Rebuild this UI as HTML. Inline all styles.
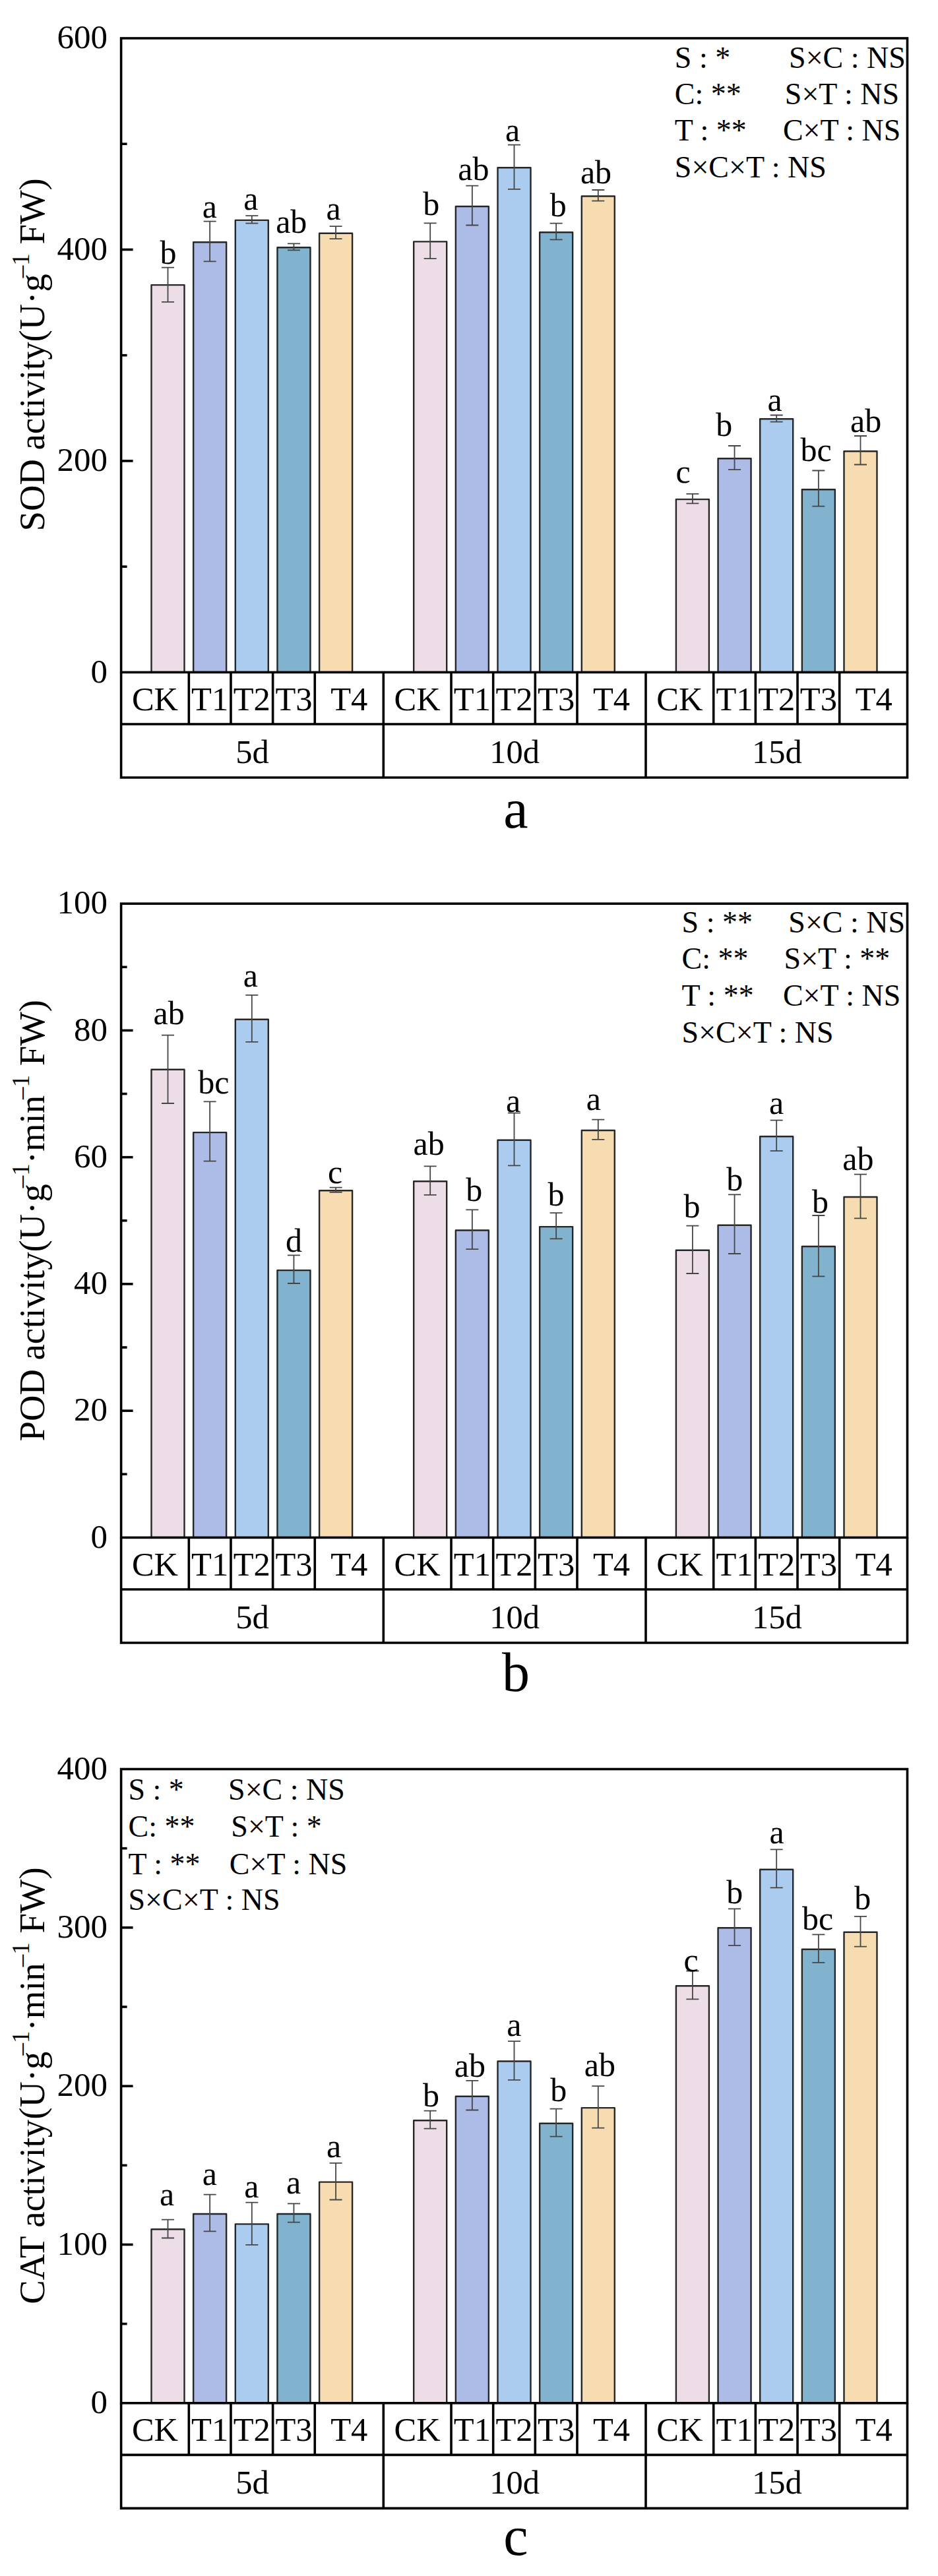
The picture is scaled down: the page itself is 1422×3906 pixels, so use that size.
<!DOCTYPE html><html><head><meta charset="utf-8"><style>html,body{margin:0;padding:0;background:#fff;}svg{display:block;}text{font-family:"Liberation Serif",serif;fill:#000;}</style></head><body>
<svg width="1422" height="3906" viewBox="0 0 1422 3906">
<rect x="0" y="0" width="1422" height="3906" fill="#fff"/>
<rect x="229.5" y="432.1" width="50" height="587.3" fill="#EDDDE7" stroke="#262626" stroke-width="2.4" stroke-linejoin="round"/>
<rect x="293.15" y="367.3" width="50" height="652.1" fill="#ADBBE7" stroke="#262626" stroke-width="2.4" stroke-linejoin="round"/>
<rect x="356.8" y="333.9" width="50" height="685.5" fill="#ABCCEF" stroke="#262626" stroke-width="2.4" stroke-linejoin="round"/>
<rect x="420.45" y="375.2" width="50" height="644.2" fill="#81B3CF" stroke="#262626" stroke-width="2.4" stroke-linejoin="round"/>
<rect x="484.1" y="353.7" width="50" height="665.7" fill="#F6DCB0" stroke="#262626" stroke-width="2.4" stroke-linejoin="round"/>
<rect x="627.2" y="366.4" width="50" height="653" fill="#EDDDE7" stroke="#262626" stroke-width="2.4" stroke-linejoin="round"/>
<rect x="690.85" y="313" width="50" height="706.4" fill="#ADBBE7" stroke="#262626" stroke-width="2.4" stroke-linejoin="round"/>
<rect x="754.5" y="254.2" width="50" height="765.2" fill="#ABCCEF" stroke="#262626" stroke-width="2.4" stroke-linejoin="round"/>
<rect x="818.15" y="352.2" width="50" height="667.2" fill="#81B3CF" stroke="#262626" stroke-width="2.4" stroke-linejoin="round"/>
<rect x="881.8" y="297.5" width="50" height="721.9" fill="#F6DCB0" stroke="#262626" stroke-width="2.4" stroke-linejoin="round"/>
<rect x="1024.9" y="757.1" width="50" height="262.3" fill="#EDDDE7" stroke="#262626" stroke-width="2.4" stroke-linejoin="round"/>
<rect x="1088.55" y="695.3" width="50" height="324.1" fill="#ADBBE7" stroke="#262626" stroke-width="2.4" stroke-linejoin="round"/>
<rect x="1152.2" y="635.2" width="50" height="384.2" fill="#ABCCEF" stroke="#262626" stroke-width="2.4" stroke-linejoin="round"/>
<rect x="1215.85" y="742.2" width="50" height="277.2" fill="#81B3CF" stroke="#262626" stroke-width="2.4" stroke-linejoin="round"/>
<rect x="1279.5" y="684.2" width="50" height="335.2" fill="#F6DCB0" stroke="#262626" stroke-width="2.4" stroke-linejoin="round"/>
<path d="M254.5 405.6V457.8M245 405.6H264M245 457.8H264" stroke="#454545" stroke-width="1.8" fill="none"/>
<text x="255.1" y="400.1" font-size="50" text-anchor="middle">b</text>
<path d="M318.15 335.6V396.3M308.65 335.6H327.65M308.65 396.3H327.65" stroke="#454545" stroke-width="1.8" fill="none"/>
<text x="317.95" y="329.5" font-size="50" text-anchor="middle">a</text>
<path d="M381.8 327.1V338.7M372.3 327.1H391.3M372.3 338.7H391.3" stroke="#454545" stroke-width="1.8" fill="none"/>
<text x="380.3" y="317.5" font-size="50" text-anchor="middle">a</text>
<path d="M445.45 369.4V379.3M435.95 369.4H454.95M435.95 379.3H454.95" stroke="#454545" stroke-width="1.8" fill="none"/>
<text x="441.75" y="352.7" font-size="50" text-anchor="middle">ab</text>
<path d="M509.1 343.1V362.2M499.6 343.1H518.6M499.6 362.2H518.6" stroke="#454545" stroke-width="1.8" fill="none"/>
<text x="505.5" y="332.9" font-size="50" text-anchor="middle">a</text>
<path d="M652.2 338.3V392.2M642.7 338.3H661.7M642.7 392.2H661.7" stroke="#454545" stroke-width="1.8" fill="none"/>
<text x="653.8" y="326" font-size="50" text-anchor="middle">b</text>
<path d="M715.85 281.6V341.5M706.35 281.6H725.35M706.35 341.5H725.35" stroke="#454545" stroke-width="1.8" fill="none"/>
<text x="717.85" y="272.6" font-size="50" text-anchor="middle">ab</text>
<path d="M779.5 219.6V286.8M770 219.6H789M770 286.8H789" stroke="#454545" stroke-width="1.8" fill="none"/>
<text x="777" y="213.5" font-size="50" text-anchor="middle">a</text>
<path d="M843.15 338.7V363.4M833.65 338.7H852.65M833.65 363.4H852.65" stroke="#454545" stroke-width="1.8" fill="none"/>
<text x="846.25" y="328.2" font-size="50" text-anchor="middle">b</text>
<path d="M906.8 288V304.7M897.3 288H916.3M897.3 304.7H916.3" stroke="#454545" stroke-width="1.8" fill="none"/>
<text x="903.5" y="277.5" font-size="50" text-anchor="middle">ab</text>
<path d="M1049.9 748.9V763.4M1040.4 748.9H1059.4M1040.4 763.4H1059.4" stroke="#454545" stroke-width="1.8" fill="none"/>
<text x="1035.6" y="732.2" font-size="50" text-anchor="middle">c</text>
<path d="M1113.55 676V712.2M1104.05 676H1123.05M1104.05 712.2H1123.05" stroke="#454545" stroke-width="1.8" fill="none"/>
<text x="1097.85" y="661" font-size="50" text-anchor="middle">b</text>
<path d="M1177.2 629.5V639.7M1167.7 629.5H1186.7M1167.7 639.7H1186.7" stroke="#454545" stroke-width="1.8" fill="none"/>
<text x="1174.7" y="622.6" font-size="50" text-anchor="middle">a</text>
<path d="M1240.85 713.5V767.6M1231.35 713.5H1250.35M1231.35 767.6H1250.35" stroke="#454545" stroke-width="1.8" fill="none"/>
<text x="1237.15" y="698.6" font-size="50" text-anchor="middle">bc</text>
<path d="M1304.5 661V704.5M1295 661H1314M1295 704.5H1314" stroke="#454545" stroke-width="1.8" fill="none"/>
<text x="1312.6" y="654.6" font-size="50" text-anchor="middle">ab</text>
<rect x="183.6" y="58" width="1191.9" height="961.4" fill="none" stroke="#000" stroke-width="3.6"/>
<text x="163" y="1034.6" font-size="51" text-anchor="end">0</text>
<path d="M183.6 859.17H192.6" stroke="#000" stroke-width="3.6"/>
<path d="M183.6 698.93H201.6" stroke="#000" stroke-width="3.6"/>
<text x="163" y="714.13" font-size="51" text-anchor="end">200</text>
<path d="M183.6 538.7H192.6" stroke="#000" stroke-width="3.6"/>
<path d="M183.6 378.47H201.6" stroke="#000" stroke-width="3.6"/>
<text x="163" y="393.67" font-size="51" text-anchor="end">400</text>
<path d="M183.6 218.23H192.6" stroke="#000" stroke-width="3.6"/>
<text x="163" y="73.2" font-size="51" text-anchor="end">600</text>
<path d="M183.6 1019.4V1179H1375.5V1019.4M183.6 1098H1375.5" stroke="#000" stroke-width="3.6" fill="none"/>
<path d="M286.32 1019.4V1098" stroke="#000" stroke-width="3.6"/>
<path d="M349.98 1019.4V1098" stroke="#000" stroke-width="3.6"/>
<path d="M413.62 1019.4V1098" stroke="#000" stroke-width="3.6"/>
<path d="M477.27 1019.4V1098" stroke="#000" stroke-width="3.6"/>
<text x="234.96" y="1077" font-size="50.5" text-anchor="middle">CK</text>
<text x="318.15" y="1077" font-size="50.5" text-anchor="middle">T1</text>
<text x="381.8" y="1077" font-size="50.5" text-anchor="middle">T2</text>
<text x="445.45" y="1077" font-size="50.5" text-anchor="middle">T3</text>
<text x="529.29" y="1077" font-size="50.5" text-anchor="middle">T4</text>
<text x="382.45" y="1157" font-size="50.5" text-anchor="middle">5d</text>
<path d="M684.03 1019.4V1098" stroke="#000" stroke-width="3.6"/>
<path d="M747.67 1019.4V1098" stroke="#000" stroke-width="3.6"/>
<path d="M811.33 1019.4V1098" stroke="#000" stroke-width="3.6"/>
<path d="M874.98 1019.4V1098" stroke="#000" stroke-width="3.6"/>
<path d="M581.3 1019.4V1179" stroke="#000" stroke-width="3.6"/>
<text x="632.66" y="1077" font-size="50.5" text-anchor="middle">CK</text>
<text x="715.85" y="1077" font-size="50.5" text-anchor="middle">T1</text>
<text x="779.5" y="1077" font-size="50.5" text-anchor="middle">T2</text>
<text x="843.15" y="1077" font-size="50.5" text-anchor="middle">T3</text>
<text x="926.99" y="1077" font-size="50.5" text-anchor="middle">T4</text>
<text x="780.15" y="1157" font-size="50.5" text-anchor="middle">10d</text>
<path d="M1081.72 1019.4V1098" stroke="#000" stroke-width="3.6"/>
<path d="M1145.38 1019.4V1098" stroke="#000" stroke-width="3.6"/>
<path d="M1209.03 1019.4V1098" stroke="#000" stroke-width="3.6"/>
<path d="M1272.67 1019.4V1098" stroke="#000" stroke-width="3.6"/>
<path d="M979 1019.4V1179" stroke="#000" stroke-width="3.6"/>
<text x="1030.36" y="1077" font-size="50.5" text-anchor="middle">CK</text>
<text x="1113.55" y="1077" font-size="50.5" text-anchor="middle">T1</text>
<text x="1177.2" y="1077" font-size="50.5" text-anchor="middle">T2</text>
<text x="1240.85" y="1077" font-size="50.5" text-anchor="middle">T3</text>
<text x="1324.69" y="1077" font-size="50.5" text-anchor="middle">T4</text>
<text x="1177.85" y="1157" font-size="50.5" text-anchor="middle">15d</text>
<text x="1022.8" y="103" font-size="46" xml:space="preserve">S : *</text>
<text x="1196.1" y="103" font-size="46" xml:space="preserve">S×C : NS</text>
<text x="1022.8" y="158" font-size="46" xml:space="preserve">C: **</text>
<text x="1189.8" y="158" font-size="46" xml:space="preserve">S×T : NS</text>
<text x="1022.8" y="213" font-size="46" xml:space="preserve">T : **</text>
<text x="1186.9" y="213" font-size="46" xml:space="preserve">C×T : NS</text>
<text x="1022.8" y="269.3" font-size="46" xml:space="preserve">S×C×T : NS</text>
<text transform="translate(66.8,537.85) rotate(-90)" x="0" y="0" font-size="54.7" text-anchor="middle" xml:space="preserve"><tspan>SOD activity(U·g</tspan><tspan font-size="37" dx="-6" dy="-22.5">–1</tspan><tspan dy="22.5"> FW)</tspan></text>
<text x="782" y="1254.5" font-size="84" text-anchor="middle">a</text>
<rect x="229.5" y="1621.8" width="50" height="709.6" fill="#EDDDE7" stroke="#262626" stroke-width="2.4" stroke-linejoin="round"/>
<rect x="293.15" y="1717.1" width="50" height="614.3" fill="#ADBBE7" stroke="#262626" stroke-width="2.4" stroke-linejoin="round"/>
<rect x="356.8" y="1545.7" width="50" height="785.7" fill="#ABCCEF" stroke="#262626" stroke-width="2.4" stroke-linejoin="round"/>
<rect x="420.45" y="1926.1" width="50" height="405.3" fill="#81B3CF" stroke="#262626" stroke-width="2.4" stroke-linejoin="round"/>
<rect x="484.1" y="1805.2" width="50" height="526.2" fill="#F6DCB0" stroke="#262626" stroke-width="2.4" stroke-linejoin="round"/>
<rect x="627.2" y="1791.2" width="50" height="540.2" fill="#EDDDE7" stroke="#262626" stroke-width="2.4" stroke-linejoin="round"/>
<rect x="690.85" y="1865.5" width="50" height="465.9" fill="#ADBBE7" stroke="#262626" stroke-width="2.4" stroke-linejoin="round"/>
<rect x="754.5" y="1728.8" width="50" height="602.6" fill="#ABCCEF" stroke="#262626" stroke-width="2.4" stroke-linejoin="round"/>
<rect x="818.15" y="1860.1" width="50" height="471.3" fill="#81B3CF" stroke="#262626" stroke-width="2.4" stroke-linejoin="round"/>
<rect x="881.8" y="1714" width="50" height="617.4" fill="#F6DCB0" stroke="#262626" stroke-width="2.4" stroke-linejoin="round"/>
<rect x="1024.9" y="1895.8" width="50" height="435.6" fill="#EDDDE7" stroke="#262626" stroke-width="2.4" stroke-linejoin="round"/>
<rect x="1088.55" y="1857.7" width="50" height="473.7" fill="#ADBBE7" stroke="#262626" stroke-width="2.4" stroke-linejoin="round"/>
<rect x="1152.2" y="1723.3" width="50" height="608.1" fill="#ABCCEF" stroke="#262626" stroke-width="2.4" stroke-linejoin="round"/>
<rect x="1215.85" y="1890" width="50" height="441.4" fill="#81B3CF" stroke="#262626" stroke-width="2.4" stroke-linejoin="round"/>
<rect x="1279.5" y="1815" width="50" height="516.4" fill="#F6DCB0" stroke="#262626" stroke-width="2.4" stroke-linejoin="round"/>
<path d="M254.5 1569.6V1673M245 1569.6H264M245 1673H264" stroke="#454545" stroke-width="1.8" fill="none"/>
<text x="256.2" y="1552.6" font-size="50" text-anchor="middle">ab</text>
<path d="M318.15 1670.4V1760.6M308.65 1670.4H327.65M308.65 1760.6H327.65" stroke="#454545" stroke-width="1.8" fill="none"/>
<text x="323.75" y="1658.4" font-size="50" text-anchor="middle">bc</text>
<path d="M381.8 1508.9V1579.9M372.3 1508.9H391.3M372.3 1579.9H391.3" stroke="#454545" stroke-width="1.8" fill="none"/>
<text x="379.9" y="1496.3" font-size="50" text-anchor="middle">a</text>
<path d="M445.45 1903.3V1946M435.95 1903.3H454.95M435.95 1946H454.95" stroke="#454545" stroke-width="1.8" fill="none"/>
<text x="445.45" y="1898.2" font-size="50" text-anchor="middle">d</text>
<path d="M509.1 1800.6V1807.8M499.6 1800.6H518.6M499.6 1807.8H518.6" stroke="#454545" stroke-width="1.8" fill="none"/>
<text x="508" y="1793.7" font-size="50" text-anchor="middle">c</text>
<path d="M652.2 1768.4V1811.9M642.7 1768.4H661.7M642.7 1811.9H661.7" stroke="#454545" stroke-width="1.8" fill="none"/>
<text x="650.1" y="1751.4" font-size="50" text-anchor="middle">ab</text>
<path d="M715.85 1834.4V1894.2M706.35 1834.4H725.35M706.35 1894.2H725.35" stroke="#454545" stroke-width="1.8" fill="none"/>
<text x="718.85" y="1821" font-size="50" text-anchor="middle">b</text>
<path d="M779.5 1687.6V1767.3M770 1687.6H789M770 1767.3H789" stroke="#454545" stroke-width="1.8" fill="none"/>
<text x="778.1" y="1686.1" font-size="50" text-anchor="middle">a</text>
<path d="M843.15 1839.1V1878.3M833.65 1839.1H852.65M833.65 1878.3H852.65" stroke="#454545" stroke-width="1.8" fill="none"/>
<text x="842.95" y="1828.2" font-size="50" text-anchor="middle">b</text>
<path d="M906.8 1697.7V1727.8M897.3 1697.7H916.3M897.3 1727.8H916.3" stroke="#454545" stroke-width="1.8" fill="none"/>
<text x="899.8" y="1683.2" font-size="50" text-anchor="middle">a</text>
<path d="M1049.9 1858.6V1931M1040.4 1858.6H1059.4M1040.4 1931H1059.4" stroke="#454545" stroke-width="1.8" fill="none"/>
<text x="1049" y="1845.9" font-size="50" text-anchor="middle">b</text>
<path d="M1113.55 1811.4V1901M1104.05 1811.4H1123.05M1104.05 1901H1123.05" stroke="#454545" stroke-width="1.8" fill="none"/>
<text x="1113.85" y="1804.9" font-size="50" text-anchor="middle">b</text>
<path d="M1177.2 1698.7V1745.1M1167.7 1698.7H1186.7M1167.7 1745.1H1186.7" stroke="#454545" stroke-width="1.8" fill="none"/>
<text x="1177.2" y="1688.9" font-size="50" text-anchor="middle">a</text>
<path d="M1240.85 1843V1935.4M1231.35 1843H1250.35M1231.35 1935.4H1250.35" stroke="#454545" stroke-width="1.8" fill="none"/>
<text x="1243.55" y="1838.6" font-size="50" text-anchor="middle">b</text>
<path d="M1304.5 1780.6V1847.3M1295 1780.6H1314M1295 1847.3H1314" stroke="#454545" stroke-width="1.8" fill="none"/>
<text x="1300.9" y="1774.1" font-size="50" text-anchor="middle">ab</text>
<rect x="183.6" y="1370.2" width="1191.9" height="961.2" fill="none" stroke="#000" stroke-width="3.6"/>
<text x="163" y="2346.6" font-size="51" text-anchor="end">0</text>
<path d="M183.6 2235.28H192.6" stroke="#000" stroke-width="3.6"/>
<path d="M183.6 2139.16H201.6" stroke="#000" stroke-width="3.6"/>
<text x="163" y="2154.36" font-size="51" text-anchor="end">20</text>
<path d="M183.6 2043.04H192.6" stroke="#000" stroke-width="3.6"/>
<path d="M183.6 1946.92H201.6" stroke="#000" stroke-width="3.6"/>
<text x="163" y="1962.12" font-size="51" text-anchor="end">40</text>
<path d="M183.6 1850.8H192.6" stroke="#000" stroke-width="3.6"/>
<path d="M183.6 1754.68H201.6" stroke="#000" stroke-width="3.6"/>
<text x="163" y="1769.88" font-size="51" text-anchor="end">60</text>
<path d="M183.6 1658.56H192.6" stroke="#000" stroke-width="3.6"/>
<path d="M183.6 1562.44H201.6" stroke="#000" stroke-width="3.6"/>
<text x="163" y="1577.64" font-size="51" text-anchor="end">80</text>
<path d="M183.6 1466.32H192.6" stroke="#000" stroke-width="3.6"/>
<text x="163" y="1385.4" font-size="51" text-anchor="end">100</text>
<path d="M183.6 2331.4V2491H1375.5V2331.4M183.6 2410H1375.5" stroke="#000" stroke-width="3.6" fill="none"/>
<path d="M286.32 2331.4V2410" stroke="#000" stroke-width="3.6"/>
<path d="M349.98 2331.4V2410" stroke="#000" stroke-width="3.6"/>
<path d="M413.62 2331.4V2410" stroke="#000" stroke-width="3.6"/>
<path d="M477.27 2331.4V2410" stroke="#000" stroke-width="3.6"/>
<text x="234.96" y="2389" font-size="50.5" text-anchor="middle">CK</text>
<text x="318.15" y="2389" font-size="50.5" text-anchor="middle">T1</text>
<text x="381.8" y="2389" font-size="50.5" text-anchor="middle">T2</text>
<text x="445.45" y="2389" font-size="50.5" text-anchor="middle">T3</text>
<text x="529.29" y="2389" font-size="50.5" text-anchor="middle">T4</text>
<text x="382.45" y="2469" font-size="50.5" text-anchor="middle">5d</text>
<path d="M684.03 2331.4V2410" stroke="#000" stroke-width="3.6"/>
<path d="M747.67 2331.4V2410" stroke="#000" stroke-width="3.6"/>
<path d="M811.33 2331.4V2410" stroke="#000" stroke-width="3.6"/>
<path d="M874.98 2331.4V2410" stroke="#000" stroke-width="3.6"/>
<path d="M581.3 2331.4V2491" stroke="#000" stroke-width="3.6"/>
<text x="632.66" y="2389" font-size="50.5" text-anchor="middle">CK</text>
<text x="715.85" y="2389" font-size="50.5" text-anchor="middle">T1</text>
<text x="779.5" y="2389" font-size="50.5" text-anchor="middle">T2</text>
<text x="843.15" y="2389" font-size="50.5" text-anchor="middle">T3</text>
<text x="926.99" y="2389" font-size="50.5" text-anchor="middle">T4</text>
<text x="780.15" y="2469" font-size="50.5" text-anchor="middle">10d</text>
<path d="M1081.72 2331.4V2410" stroke="#000" stroke-width="3.6"/>
<path d="M1145.38 2331.4V2410" stroke="#000" stroke-width="3.6"/>
<path d="M1209.03 2331.4V2410" stroke="#000" stroke-width="3.6"/>
<path d="M1272.67 2331.4V2410" stroke="#000" stroke-width="3.6"/>
<path d="M979 2331.4V2491" stroke="#000" stroke-width="3.6"/>
<text x="1030.36" y="2389" font-size="50.5" text-anchor="middle">CK</text>
<text x="1113.55" y="2389" font-size="50.5" text-anchor="middle">T1</text>
<text x="1177.2" y="2389" font-size="50.5" text-anchor="middle">T2</text>
<text x="1240.85" y="2389" font-size="50.5" text-anchor="middle">T3</text>
<text x="1324.69" y="2389" font-size="50.5" text-anchor="middle">T4</text>
<text x="1177.85" y="2469" font-size="50.5" text-anchor="middle">15d</text>
<text x="1033.6" y="1413.8" font-size="46" xml:space="preserve">S : **</text>
<text x="1195.3" y="1413.8" font-size="46" xml:space="preserve">S×C : NS</text>
<text x="1033.6" y="1469.1" font-size="46" xml:space="preserve">C: **</text>
<text x="1188.6" y="1469.1" font-size="46" xml:space="preserve">S×T : **</text>
<text x="1033.6" y="1525.2" font-size="46" xml:space="preserve">T : **</text>
<text x="1186.9" y="1525.2" font-size="46" xml:space="preserve">C×T : NS</text>
<text x="1033.6" y="1580.5" font-size="46" xml:space="preserve">S×C×T : NS</text>
<text transform="translate(66.8,1850.75) rotate(-90)" x="0" y="0" font-size="54.7" text-anchor="middle" xml:space="preserve"><tspan>POD activity(U·g</tspan><tspan font-size="37" dx="-6" dy="-22.5">–1</tspan><tspan dy="22.5">·min</tspan><tspan font-size="37" dx="-6" dy="-22.5">–1</tspan><tspan dy="22.5"> FW)</tspan></text>
<text x="782" y="2563.5" font-size="84" text-anchor="middle">b</text>
<rect x="229.5" y="3380.2" width="50" height="263.6" fill="#EDDDE7" stroke="#262626" stroke-width="2.4" stroke-linejoin="round"/>
<rect x="293.15" y="3357" width="50" height="286.8" fill="#ADBBE7" stroke="#262626" stroke-width="2.4" stroke-linejoin="round"/>
<rect x="356.8" y="3372.4" width="50" height="271.4" fill="#ABCCEF" stroke="#262626" stroke-width="2.4" stroke-linejoin="round"/>
<rect x="420.45" y="3357" width="50" height="286.8" fill="#81B3CF" stroke="#262626" stroke-width="2.4" stroke-linejoin="round"/>
<rect x="484.1" y="3308.6" width="50" height="335.2" fill="#F6DCB0" stroke="#262626" stroke-width="2.4" stroke-linejoin="round"/>
<rect x="627.2" y="3215.3" width="50" height="428.5" fill="#EDDDE7" stroke="#262626" stroke-width="2.4" stroke-linejoin="round"/>
<rect x="690.85" y="3178.7" width="50" height="465.1" fill="#ADBBE7" stroke="#262626" stroke-width="2.4" stroke-linejoin="round"/>
<rect x="754.5" y="3125.5" width="50" height="518.3" fill="#ABCCEF" stroke="#262626" stroke-width="2.4" stroke-linejoin="round"/>
<rect x="818.15" y="3219.7" width="50" height="424.1" fill="#81B3CF" stroke="#262626" stroke-width="2.4" stroke-linejoin="round"/>
<rect x="881.8" y="3196.1" width="50" height="447.7" fill="#F6DCB0" stroke="#262626" stroke-width="2.4" stroke-linejoin="round"/>
<rect x="1024.9" y="3011.3" width="50" height="632.5" fill="#EDDDE7" stroke="#262626" stroke-width="2.4" stroke-linejoin="round"/>
<rect x="1088.55" y="2923.2" width="50" height="720.6" fill="#ADBBE7" stroke="#262626" stroke-width="2.4" stroke-linejoin="round"/>
<rect x="1152.2" y="2834.8" width="50" height="809" fill="#ABCCEF" stroke="#262626" stroke-width="2.4" stroke-linejoin="round"/>
<rect x="1215.85" y="2955.8" width="50" height="688" fill="#81B3CF" stroke="#262626" stroke-width="2.4" stroke-linejoin="round"/>
<rect x="1279.5" y="2929.7" width="50" height="714.1" fill="#F6DCB0" stroke="#262626" stroke-width="2.4" stroke-linejoin="round"/>
<path d="M254.5 3365.6V3393.5M245 3365.6H264M245 3393.5H264" stroke="#454545" stroke-width="1.8" fill="none"/>
<text x="253.1" y="3344.1" font-size="50" text-anchor="middle">a</text>
<path d="M318.15 3327.7V3383.3M308.65 3327.7H327.65M308.65 3383.3H327.65" stroke="#454545" stroke-width="1.8" fill="none"/>
<text x="317.95" y="3313.4" font-size="50" text-anchor="middle">a</text>
<path d="M381.8 3339.6V3403.8M372.3 3339.6H391.3M372.3 3403.8H391.3" stroke="#454545" stroke-width="1.8" fill="none"/>
<text x="381.3" y="3332.1" font-size="50" text-anchor="middle">a</text>
<path d="M445.45 3341.3V3369.6M435.95 3341.3H454.95M435.95 3369.6H454.95" stroke="#454545" stroke-width="1.8" fill="none"/>
<text x="445.15" y="3326" font-size="50" text-anchor="middle">a</text>
<path d="M509.1 3279.9V3335.5M499.6 3279.9H518.6M499.6 3335.5H518.6" stroke="#454545" stroke-width="1.8" fill="none"/>
<text x="506.2" y="3270.7" font-size="50" text-anchor="middle">a</text>
<path d="M652.2 3200.6V3227.7M642.7 3200.6H661.7M642.7 3227.7H661.7" stroke="#454545" stroke-width="1.8" fill="none"/>
<text x="653.5" y="3194" font-size="50" text-anchor="middle">b</text>
<path d="M715.85 3154.9V3199.5M706.35 3154.9H725.35M706.35 3199.5H725.35" stroke="#454545" stroke-width="1.8" fill="none"/>
<text x="712.35" y="3148.7" font-size="50" text-anchor="middle">ab</text>
<path d="M779.5 3095.1V3153.8M770 3095.1H789M770 3153.8H789" stroke="#454545" stroke-width="1.8" fill="none"/>
<text x="779.4" y="3087.1" font-size="50" text-anchor="middle">a</text>
<path d="M843.15 3197.7V3239.7M833.65 3197.7H852.65M833.65 3239.7H852.65" stroke="#454545" stroke-width="1.8" fill="none"/>
<text x="846.65" y="3185.7" font-size="50" text-anchor="middle">b</text>
<path d="M906.8 3163.2V3226.7M897.3 3163.2H916.3M897.3 3226.7H916.3" stroke="#454545" stroke-width="1.8" fill="none"/>
<text x="909.3" y="3148" font-size="50" text-anchor="middle">ab</text>
<path d="M1049.9 2988.5V3031.3M1040.4 2988.5H1059.4M1040.4 3031.3H1059.4" stroke="#454545" stroke-width="1.8" fill="none"/>
<text x="1047.6" y="2988.5" font-size="50" text-anchor="middle">c</text>
<path d="M1113.55 2894.3V2949.8M1104.05 2894.3H1123.05M1104.05 2949.8H1123.05" stroke="#454545" stroke-width="1.8" fill="none"/>
<text x="1113.85" y="2886" font-size="50" text-anchor="middle">b</text>
<path d="M1177.2 2804.4V2862.4M1167.7 2804.4H1186.7M1167.7 2862.4H1186.7" stroke="#454545" stroke-width="1.8" fill="none"/>
<text x="1177.7" y="2795.1" font-size="50" text-anchor="middle">a</text>
<path d="M1240.85 2933.4V2975.9M1231.35 2933.4H1250.35M1231.35 2975.9H1250.35" stroke="#454545" stroke-width="1.8" fill="none"/>
<text x="1239.55" y="2925.8" font-size="50" text-anchor="middle">bc</text>
<path d="M1304.5 2905.9V2951.6M1295 2905.9H1314M1295 2951.6H1314" stroke="#454545" stroke-width="1.8" fill="none"/>
<text x="1307.7" y="2895" font-size="50" text-anchor="middle">b</text>
<rect x="183.6" y="2682.5" width="1191.9" height="961.3" fill="none" stroke="#000" stroke-width="3.6"/>
<text x="163" y="3659" font-size="51" text-anchor="end">0</text>
<path d="M183.6 3523.64H192.6" stroke="#000" stroke-width="3.6"/>
<path d="M183.6 3403.48H201.6" stroke="#000" stroke-width="3.6"/>
<text x="163" y="3418.68" font-size="51" text-anchor="end">100</text>
<path d="M183.6 3283.31H192.6" stroke="#000" stroke-width="3.6"/>
<path d="M183.6 3163.15H201.6" stroke="#000" stroke-width="3.6"/>
<text x="163" y="3178.35" font-size="51" text-anchor="end">200</text>
<path d="M183.6 3042.99H192.6" stroke="#000" stroke-width="3.6"/>
<path d="M183.6 2922.82H201.6" stroke="#000" stroke-width="3.6"/>
<text x="163" y="2938.02" font-size="51" text-anchor="end">300</text>
<path d="M183.6 2802.66H192.6" stroke="#000" stroke-width="3.6"/>
<text x="163" y="2697.7" font-size="51" text-anchor="end">400</text>
<path d="M183.6 3643.8V3803.4H1375.5V3643.8M183.6 3722.4H1375.5" stroke="#000" stroke-width="3.6" fill="none"/>
<path d="M286.32 3643.8V3722.4" stroke="#000" stroke-width="3.6"/>
<path d="M349.98 3643.8V3722.4" stroke="#000" stroke-width="3.6"/>
<path d="M413.62 3643.8V3722.4" stroke="#000" stroke-width="3.6"/>
<path d="M477.27 3643.8V3722.4" stroke="#000" stroke-width="3.6"/>
<text x="234.96" y="3701.4" font-size="50.5" text-anchor="middle">CK</text>
<text x="318.15" y="3701.4" font-size="50.5" text-anchor="middle">T1</text>
<text x="381.8" y="3701.4" font-size="50.5" text-anchor="middle">T2</text>
<text x="445.45" y="3701.4" font-size="50.5" text-anchor="middle">T3</text>
<text x="529.29" y="3701.4" font-size="50.5" text-anchor="middle">T4</text>
<text x="382.45" y="3781.4" font-size="50.5" text-anchor="middle">5d</text>
<path d="M684.03 3643.8V3722.4" stroke="#000" stroke-width="3.6"/>
<path d="M747.67 3643.8V3722.4" stroke="#000" stroke-width="3.6"/>
<path d="M811.33 3643.8V3722.4" stroke="#000" stroke-width="3.6"/>
<path d="M874.98 3643.8V3722.4" stroke="#000" stroke-width="3.6"/>
<path d="M581.3 3643.8V3803.4" stroke="#000" stroke-width="3.6"/>
<text x="632.66" y="3701.4" font-size="50.5" text-anchor="middle">CK</text>
<text x="715.85" y="3701.4" font-size="50.5" text-anchor="middle">T1</text>
<text x="779.5" y="3701.4" font-size="50.5" text-anchor="middle">T2</text>
<text x="843.15" y="3701.4" font-size="50.5" text-anchor="middle">T3</text>
<text x="926.99" y="3701.4" font-size="50.5" text-anchor="middle">T4</text>
<text x="780.15" y="3781.4" font-size="50.5" text-anchor="middle">10d</text>
<path d="M1081.72 3643.8V3722.4" stroke="#000" stroke-width="3.6"/>
<path d="M1145.38 3643.8V3722.4" stroke="#000" stroke-width="3.6"/>
<path d="M1209.03 3643.8V3722.4" stroke="#000" stroke-width="3.6"/>
<path d="M1272.67 3643.8V3722.4" stroke="#000" stroke-width="3.6"/>
<path d="M979 3643.8V3803.4" stroke="#000" stroke-width="3.6"/>
<text x="1030.36" y="3701.4" font-size="50.5" text-anchor="middle">CK</text>
<text x="1113.55" y="3701.4" font-size="50.5" text-anchor="middle">T1</text>
<text x="1177.2" y="3701.4" font-size="50.5" text-anchor="middle">T2</text>
<text x="1240.85" y="3701.4" font-size="50.5" text-anchor="middle">T3</text>
<text x="1324.69" y="3701.4" font-size="50.5" text-anchor="middle">T4</text>
<text x="1177.85" y="3781.4" font-size="50.5" text-anchor="middle">15d</text>
<text x="194.5" y="2729.2" font-size="46" xml:space="preserve">S : *</text>
<text x="346.1" y="2729.2" font-size="46" xml:space="preserve">S×C : NS</text>
<text x="194.5" y="2785.3" font-size="46" xml:space="preserve">C: **</text>
<text x="350.3" y="2785.3" font-size="46" xml:space="preserve">S×T : *</text>
<text x="194.5" y="2841.5" font-size="46" xml:space="preserve">T : **</text>
<text x="347.8" y="2841.5" font-size="46" xml:space="preserve">C×T : NS</text>
<text x="194.5" y="2895.5" font-size="46" xml:space="preserve">S×C×T : NS</text>
<text transform="translate(66.8,3162.6) rotate(-90)" x="0" y="0" font-size="54.7" text-anchor="middle" xml:space="preserve"><tspan>CAT activity(U·g</tspan><tspan font-size="37" dx="-6" dy="-22.5">–1</tspan><tspan dy="22.5">·min</tspan><tspan font-size="37" dx="-6" dy="-22.5">–1</tspan><tspan dy="22.5"> FW)</tspan></text>
<text x="782" y="3873.5" font-size="84" text-anchor="middle">c</text>
</svg></body></html>
